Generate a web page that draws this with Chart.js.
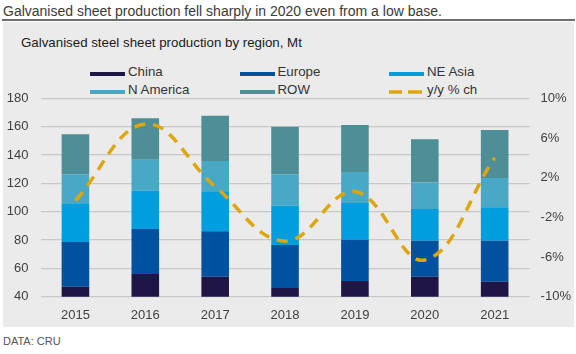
<!DOCTYPE html>
<html>
<head>
<meta charset="utf-8">
<script src="https://cdn.jsdelivr.net/npm/chart.js@4.4.1/dist/chart.umd.min.js"></script>
<style>
  html, body { margin:0; padding:0; width:576px; height:354px; background:#ffffff; overflow:hidden; font-family:"Liberation Sans", Arial, sans-serif; }
  .abs { position:absolute; white-space:nowrap; }
  #title { left:3px; top:3.6px; font-size:14px; line-height:14px; color:#3a3a3a; }
  #rule { left:2px; top:18.5px; width:573px; height:2px; background:#6e6e6e; }
  #panel { left:3px; top:22px; width:571px; height:305px; background:#ebebeb; }
  #subtitle { left:21px; top:35.7px; font-size:13.3px; line-height:13.3px; color:#1a1a1a; }
  #source { left:3px; top:335.7px; font-size:11px; line-height:11px; color:#555555; }
  canvas { position:absolute; left:0; top:0; }
  .leg { position:absolute; font-size:13.3px; line-height:13px; color:#333333; white-space:nowrap; }
  .sw { position:absolute; height:4px; width:35px; }
</style>
</head>
<body>
<div id="title" class="abs">Galvanised sheet production fell sharply in 2020 even from a low base.</div>
<div id="rule" class="abs"></div>
<div id="panel" class="abs"></div>
<div id="subtitle" class="abs">Galvanised steel sheet production by region, Mt</div>
<div id="legend"></div>
<div id="source" class="abs">DATA: CRU</div>
<canvas id="c" width="576" height="354"></canvas>
<script>
// ---- Data ----
const years = ["2015", "2016", "2017", "2018", "2019", "2020", "2021"];
const china    = [47.0, 56.0, 54.1, 46.1, 51.1, 54.1, 50.6];
const europe   = [31.6, 31.8, 32.0, 30.4, 29.1, 25.4, 28.9];
const neAsia   = [26.8, 27.0, 28.3, 27.7, 25.9, 22.4, 23.6];
const nAmerica = [21.0, 21.9, 21.4, 22.2, 21.9, 18.6, 20.7];
const row      = [28.2, 29.2, 31.9, 33.6, 33.2, 30.6, 33.8];
const yoyPct   = [-0.3, 7.4, 1.1, -4.4, 0.6, -6.3, 4.0];
const leftTicks = [40, 60, 80, 100, 120, 140, 160, 180];
const rightTicks = [-10, -6, -2, 2, 6, 10];
const seriesNames = ["China", "Europe", "NE Asia", "N America", "ROW", "y/y % ch"];

// ---- Styles ----
const colors = ["#1f1646", "#00529e", "#009ddf", "#48a8c6", "#4e8e96"];
const lineColor = "#dfa60c";

// ---- Legend (HTML) ----
const legend = document.getElementById('legend');
const colX = [90, 239.5, 389];
const rowY = [64.5, 82.5];
seriesNames.forEach((name, i) => {
  const col = i % 3, r = Math.floor(i / 3);
  const x = colX[col], y = rowY[r];
  if (i < 5) {
    const sw = document.createElement('div');
    sw.className = 'sw';
    sw.style.left = x + 'px';
    sw.style.top = (y + 7.5) + 'px';
    sw.style.background = colors[i];
    legend.appendChild(sw);
  } else {
    const cv = document.createElement('canvas');
    cv.width = 36; cv.height = 8;
    cv.style.left = x + 'px';
    cv.style.top = (y + 5.5) + 'px';
    const g = cv.getContext('2d');
    g.strokeStyle = lineColor; g.lineWidth = 3.5;
    g.beginPath(); g.moveTo(0, 4); g.lineTo(13, 4); g.moveTo(19, 4); g.lineTo(33, 4); g.stroke();
    legend.appendChild(cv);
  }
  const t = document.createElement('div');
  t.className = 'leg';
  t.style.left = (x + 38) + 'px';
  t.style.top = (y) + 'px';
  t.textContent = name;
  legend.appendChild(t);
});

// ---- Chart ----
const barSets = [china, europe, neAsia, nAmerica, row].map((d, i) => ({
  type: 'bar',
  label: seriesNames[i],
  data: d,
  backgroundColor: colors[i],
  borderWidth: 0,
  stack: 's',
  yAxisID: 'y',
  order: 2,
  barPercentage: 0.395,
  categoryPercentage: 1.0
}));

const lineSet = {
  type: 'line',
  label: seriesNames[5],
  data: yoyPct,
  borderColor: lineColor,
  borderWidth: 3.5,
  borderDash: [11, 8],
  tension: 0.4,
  pointRadius: 0,
  fill: false,
  yAxisID: 'y1',
  order: 0
};

const tickFont = { family: "'Liberation Sans', Arial, sans-serif", size: 13 };

new Chart(document.getElementById('c'), {
  data: { labels: years, datasets: [...barSets, lineSet] },
  options: {
    responsive: false,
    animation: false,
    devicePixelRatio: 1,
    layout: { padding: { top: 98.3, left: 0, right: 0, bottom: 0 } },
    plugins: { legend: { display: false }, tooltip: { enabled: false }, title: { display: false } },
    scales: {
      x: {
        stacked: true,
        grid: { display: false },
        border: { display: false },
        ticks: { color: '#404040', font: tickFont, padding: 3, maxRotation: 0 },
        afterFit: (s) => { s.height = 354 - 296.7; }
      },
      y: {
        stacked: true,
        position: 'left',
        min: 40, max: 180,
        afterBuildTicks: (s) => { s.ticks = leftTicks.map(v => ({ value: v })); },
        grid: { color: '#c8c8c8', lineWidth: 1.3, drawTicks: false },
        border: { display: false },
        ticks: { color: '#404040', font: tickFont, padding: 12 },
        afterFit: (s) => { s.width = 40.5; }
      },
      y1: {
        position: 'right',
        min: -10, max: 10,
        afterBuildTicks: (s) => { s.ticks = rightTicks.map(v => ({ value: v })); },
        grid: { display: false, drawTicks: false },
        border: { display: false },
        ticks: { color: '#404040', font: tickFont, padding: 11, callback: (v) => v + '%' },
        afterFit: (s) => { s.width = 576 - 529.6; }
      }
    }
  }
});
</script>
</body>
</html>
